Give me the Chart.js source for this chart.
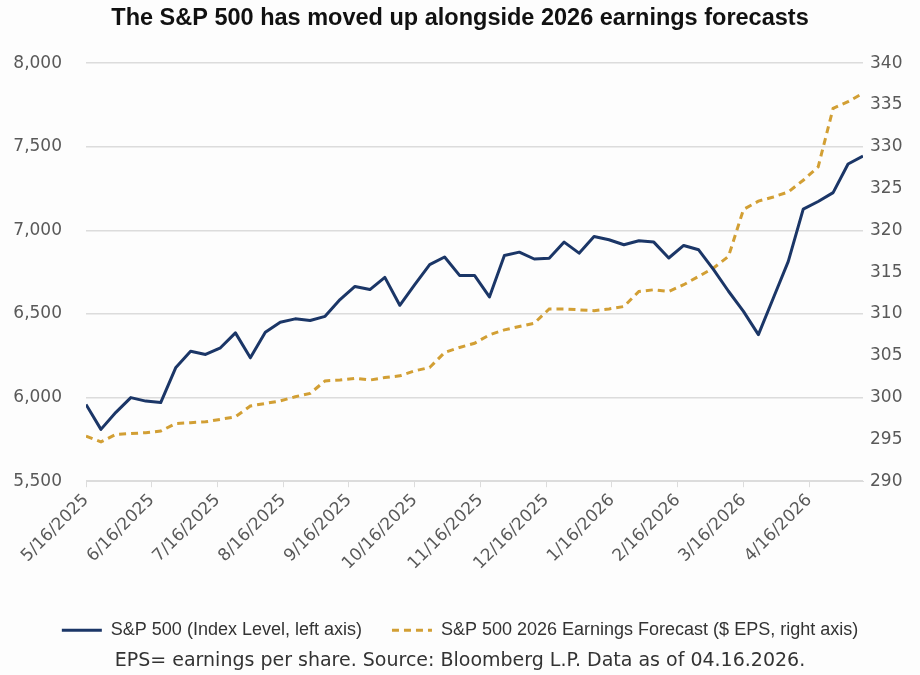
<!DOCTYPE html>
<html>
<head>
<meta charset="utf-8">
<script src="https://cdn.jsdelivr.net/npm/chart.js@4.4.1/dist/chart.umd.min.js"></script>
<style>
  html, body { margin: 0; padding: 0; background: #fdfdfd; }
  #wrap { width: 920px; height: 675px; }
</style>
</head>
<body>
<div id="wrap"><canvas id="chart" width="920" height="675"></canvas></div>
<script>
// weekly points starting 5/16/2025
const sp500 = [
  5959, 5810, 5912, 6000, 5979, 5970, 6178, 6277, 6258, 6298,
  6387, 6238, 6391, 6451, 6471, 6461, 6486, 6586, 6665, 6646,
  6719, 6552, 6675, 6795, 6841, 6731, 6731, 6602, 6850, 6870,
  6829, 6833, 6930, 6864, 6963, 6944, 6914, 6938, 6930, 6835,
  6910, 6884, 6765, 6636, 6516, 6377, 6596, 6815, 7127, 7173,
  7226, 7397, 7445
];
const eps2026 = [
  295.4, 294.7, 295.6, 295.7, 295.8, 296.0, 296.9, 297.0, 297.1, 297.4,
  297.7, 299.0, 299.3, 299.6, 300.1, 300.5, 302.0, 302.1, 302.3, 302.1,
  302.4, 302.6, 303.2, 303.6, 305.4, 306.0, 306.5, 307.5, 308.1, 308.5,
  308.9, 310.6, 310.6, 310.5, 310.4, 310.6, 310.9, 312.7, 312.9, 312.7,
  313.5, 314.5, 315.5, 316.9, 322.5, 323.5, 324.0, 324.6, 326.0, 327.6,
  334.6, 335.4, 336.4
];
const monthLabels = [
  "5/16/2025", "6/16/2025", "7/16/2025", "8/16/2025", "9/16/2025", "10/16/2025",
  "11/16/2025", "12/16/2025", "1/16/2026", "2/16/2026", "3/16/2026", "4/16/2026"
];
const WEEKS_PER_MONTH = 4.4;

const navy = "#1b3667";
const gold = "#d29f34";
const tickColor = "#595959";
const gridColor = "#dcdcdc";
const tickFont = { family: "'DejaVu Sans', sans-serif", size: 17 };

const ctx = document.getElementById("chart").getContext("2d");

new Chart(ctx, {
  type: "line",
  data: {
    datasets: [
      {
        label: "S&P 500 (Index Level, left axis)",
        data: sp500.map((v, i) => ({ x: i, y: v })),
        yAxisID: "y",
        borderColor: navy,
        backgroundColor: navy,
        borderWidth: 3,
        pointRadius: 0,
        pointStyle: "line",
        tension: 0,
        borderJoinStyle: "round"
      },
      {
        label: "S&P 500 2026 Earnings Forecast ($ EPS, right axis)",
        data: eps2026.map((v, i) => ({ x: i, y: v })),
        yAxisID: "y1",
        borderColor: gold,
        backgroundColor: gold,
        borderWidth: 3,
        borderDash: [7, 5],
        pointRadius: 0,
        pointStyle: "line",
        tension: 0
      }
    ]
  },
  options: {
    responsive: false,
    animation: false,
    layout: { padding: 0 },
    plugins: {
      title: {
        display: true,
        text: "The S&P 500 has moved up alongside 2026 earnings forecasts",
        color: "#111",
        font: { family: "'Liberation Sans', Arial, sans-serif", size: 23.5, weight: "bold" },
        padding: { top: 4, bottom: 31 }
      },
      subtitle: {
        display: true,
        position: "bottom",
        text: "EPS= earnings per share. Source: Bloomberg L.P. Data as of 04.16.2026.",
        color: "#333",
        font: { family: "'DejaVu Sans', sans-serif", size: 19 },
        padding: { top: 0, bottom: 3 }
      },
      legend: {
        position: "bottom",
        labels: {
          usePointStyle: true,
          pointStyleWidth: 40,
          boxWidth: 40,
          boxHeight: 10,
          color: "#333",
          padding: 30,
          font: { family: "'Liberation Sans', Arial, sans-serif", size: 18 },
          generateLabels: (chart) =>
            Chart.defaults.plugins.legend.labels.generateLabels(chart).map((item, i) => ({
              ...item,
              lineWidth: 3,
              lineDash: chart.data.datasets[i].borderDash || []
            }))
        }
      },
      tooltip: { enabled: false }
    },
    scales: {
      x: {
        type: "linear",
        min: 0,
        max: 52,
        afterBuildTicks: (axis) => {
          axis.ticks = monthLabels.map((l, k) => ({ value: k * WEEKS_PER_MONTH }));
        },
        afterFit: (axis) => {
          axis.height = 110;
          axis.paddingLeft = 0;
          axis.paddingRight = 0;
        },
        ticks: {
          autoSkip: false,
          minRotation: 45,
          maxRotation: 45,
          color: tickColor,
          padding: 3,
          font: tickFont,
          callback: (value, index) => monthLabels[index]
        },
        grid: { drawOnChartArea: false, drawTicks: true, tickLength: 6, color: gridColor },
        border: { color: gridColor }
      },
      y: {
        position: "left",
        min: 5500,
        max: 8000,
        afterFit: (axis) => { axis.width = 86; },
        ticks: {
          stepSize: 500,
          color: tickColor,
          padding: 24,
          font: tickFont,
          callback: (v) => v.toLocaleString("en-US")
        },
        grid: { color: gridColor, lineWidth: 1.5, drawTicks: false },
        border: { display: false }
      },
      y1: {
        position: "right",
        min: 290,
        max: 340,
        afterFit: (axis) => { axis.width = 57; },
        ticks: {
          stepSize: 5,
          color: tickColor,
          padding: 7,
          font: tickFont
        },
        grid: { drawOnChartArea: false, drawTicks: false },
        border: { display: false }
      }
    }
  }
});
</script>
</body>
</html>
